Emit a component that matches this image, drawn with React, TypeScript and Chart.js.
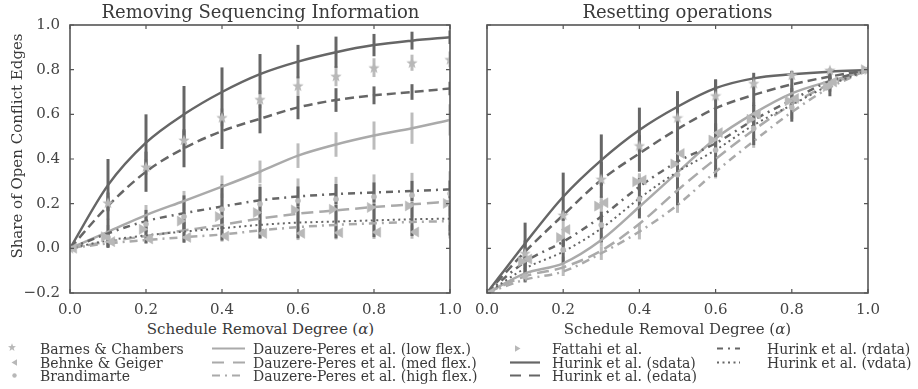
import React, { useEffect, useRef } from "react";
import { Chart, registerables } from "chart.js";
Chart.register(...registerables);

// ---------- data ----------
const X_VALUES = [0, 0.1, 0.2, 0.3, 0.4, 0.5, 0.6, 0.7, 0.8, 0.9, 1.0];
const X_TICKS = [0, 0.2, 0.4, 0.6, 0.8, 1.0];
const X_TICK_LABELS = ["0.0", "0.2", "0.4", "0.6", "0.8", "1.0"];
const Y_TICKS = [-0.2, 0, 0.2, 0.4, 0.6, 0.8, 1.0];
const Y_TICK_LABELS = ["\u22120.2", "0.0", "0.2", "0.4", "0.6", "0.8", "1.0"];

const PANEL_TITLES = ["Removing Sequencing Information", "Resetting operations"];
const X_TITLE = "Schedule Removal Degree (";
const X_TITLE_SYMBOL = "α";
const Y_TITLE = "Share of Open Conflict Edges";

const SERIES_NAMES = [
  "Barnes & Chambers",
  "Behnke & Geiger",
  "Brandimarte",
  "Dauzere-Peres et al. (low flex.)",
  "Dauzere-Peres et al. (med flex.)",
  "Dauzere-Peres et al. (high flex.)",
  "Fattahi et al.",
  "Hurink et al. (sdata)",
  "Hurink et al. (edata)",
  "Hurink et al. (rdata)",
  "Hurink et al. (vdata)",
];

// Left panel: Removing Sequencing Information
const L_BARNES = [0, 0.204, 0.365, 0.485, 0.586, 0.667, 0.728, 0.771, 0.809, 0.831, 0.846];
const L_BARNES_ERR = [0, 0.03, 0.035, 0.04, 0.04, 0.04, 0.042, 0.045, 0.042, 0.036, 0.035];
const L_BEHNKE = [0, 0.03, 0.042, 0.049, 0.055, 0.067, 0.067, 0.07, 0.072, 0.073, 0.074];
const L_BEHNKE_ERR = [0, 0.02, 0.02, 0.02, 0.025, 0.025, 0.03, 0.03, 0.03, 0.03, 0.03];
const L_BRANDIMARTE = [0, 0.049, 0.109, 0.142, 0.175, 0.199, 0.213, 0.22, 0.231, 0.238, 0.245];
const L_BRANDIMARTE_ERR = [0, 0.03, 0.05, 0.06, 0.07, 0.09, 0.1, 0.1, 0.1, 0.1, 0.1];
const L_LOWFLEX = [0, 0.074, 0.149, 0.212, 0.276, 0.343, 0.415, 0.465, 0.505, 0.538, 0.575];
const L_LOWFLEX_ERR = [0, 0.03, 0.045, 0.045, 0.05, 0.05, 0.055, 0.055, 0.063, 0.07, 0.07];
const L_MEDFLEX = [0, 0.03, 0.055, 0.08, 0.105, 0.133, 0.155, 0.17, 0.185, 0.197, 0.21];
const L_HIGHFLEX = [0, 0.022, 0.037, 0.05, 0.062, 0.08, 0.095, 0.105, 0.112, 0.118, 0.122];
const L_FATTAHI = [0, 0.052, 0.085, 0.122, 0.142, 0.16, 0.172, 0.175, 0.183, 0.19, 0.201];
const L_SDATA = [0, 0.283, 0.473, 0.6, 0.7, 0.78, 0.836, 0.878, 0.91, 0.93, 0.945];
const L_SDATA_ERR = [0, 0.117, 0.127, 0.127, 0.11, 0.09, 0.075, 0.07, 0.05, 0.04, 0.03];
const L_EDATA = [0, 0.19, 0.343, 0.448, 0.525, 0.58, 0.631, 0.664, 0.685, 0.7, 0.716];
const L_EDATA_ERR = [0, 0.06, 0.09, 0.085, 0.08, 0.065, 0.053, 0.053, 0.04, 0.035, 0.03];
const L_RDATA = [0, 0.067, 0.122, 0.157, 0.187, 0.215, 0.232, 0.243, 0.25, 0.257, 0.264];
const L_RDATA_ERR = [0, 0.065, 0.05, 0.08, 0.1, 0.06, 0.045, 0.045, 0.045, 0.045, 0.04];
const L_VDATA = [0, 0.035, 0.058, 0.075, 0.09, 0.105, 0.115, 0.12, 0.125, 0.13, 0.133];
const L_VDATA_ERR = [0, 0.03, 0.036, 0.05, 0.055, 0.06, 0.07, 0.075, 0.075, 0.075, 0.075];

// Right panel: Resetting operations
const R_BARNES = [-0.2, -0.022, 0.149, 0.31, 0.46, 0.585, 0.684, 0.739, 0.776, 0.798, 0.8];
const R_BARNES_ERR = [0, 0.02, 0.02, 0.025, 0.03, 0.03, 0.03, 0.03, 0.02, 0.01, 0];
const R_BEHNKE = [-0.2, -0.048, 0.084, 0.204, 0.306, 0.425, 0.518, 0.601, 0.671, 0.745, 0.8];
const R_BEHNKE_ERR = [0, 0.03, 0.05, 0.03, 0.03, 0.04, 0.04, 0.04, 0.03, 0.02, 0];
const R_BRANDIMARTE = [-0.2, -0.126, -0.007, 0.105, 0.221, 0.33, 0.44, 0.537, 0.631, 0.734, 0.8];
const R_LOWFLEX = [-0.2, -0.112, -0.067, 0.037, 0.186, 0.34, 0.492, 0.604, 0.694, 0.749, 0.797];
const R_LOWFLEX_ERR = [0, 0.02, 0.03, 0.03, 0.04, 0.05, 0.05, 0.05, 0.04, 0.03, 0];
const R_MEDFLEX = [-0.2, -0.125, -0.085, -0.01, 0.11, 0.26, 0.4, 0.53, 0.645, 0.735, 0.797];
const R_HIGHFLEX = [-0.2, -0.14, -0.104, -0.022, 0.075, 0.194, 0.343, 0.48, 0.61, 0.72, 0.797];
const R_HIGHFLEX_ERR = [0, 0.015, 0.02, 0.03, 0.035, 0.035, 0.03, 0.03, 0.03, 0.02, 0];
const R_FATTAHI = [-0.2, -0.059, 0.048, 0.189, 0.298, 0.378, 0.485, 0.578, 0.66, 0.724, 0.8];
const R_FATTAHI_ERR = [0, 0.03, 0.04, 0.03, 0.03, 0.04, 0.04, 0.04, 0.03, 0.02, 0];
const R_SDATA = [-0.2, 0.022, 0.231, 0.395, 0.53, 0.634, 0.717, 0.761, 0.779, 0.791, 0.798];
const R_SDATA_ERR = [0, 0.093, 0.108, 0.115, 0.1, 0.07, 0.037, 0.025, 0.015, 0.008, 0];
const R_EDATA = [-0.2, -0.015, 0.149, 0.306, 0.425, 0.534, 0.627, 0.687, 0.734, 0.769, 0.798];
const R_EDATA_ERR = [0, 0.05, 0.02, 0.08, 0.082, 0.12, 0.13, 0.05, 0.035, 0.03, 0];
const R_RDATA = [-0.2, -0.06, 0.03, 0.142, 0.276, 0.388, 0.47, 0.575, 0.664, 0.749, 0.798];
const R_RDATA_ERR = [0, 0.05, 0.02, 0.022, 0.02, 0.03, 0.02, 0.03, 0.03, 0.02, 0];
const R_VDATA = [-0.2, -0.09, -0.015, 0.089, 0.224, 0.343, 0.44, 0.552, 0.642, 0.731, 0.798];
const R_VDATA_ERR = [0, 0.06, 0.052, 0.062, 0.09, 0.15, 0.12, 0.09, 0.075, 0.05, 0];

type PanelSeries = { y: number[]; err?: number[] };

const LEFT_PANEL: Record<string, PanelSeries> = {
  "Barnes & Chambers": { y: L_BARNES, err: L_BARNES_ERR },
  "Behnke & Geiger": { y: L_BEHNKE, err: L_BEHNKE_ERR },
  "Brandimarte": { y: L_BRANDIMARTE, err: L_BRANDIMARTE_ERR },
  "Dauzere-Peres et al. (low flex.)": { y: L_LOWFLEX, err: L_LOWFLEX_ERR },
  "Dauzere-Peres et al. (med flex.)": { y: L_MEDFLEX },
  "Dauzere-Peres et al. (high flex.)": { y: L_HIGHFLEX },
  "Fattahi et al.": { y: L_FATTAHI },
  "Hurink et al. (sdata)": { y: L_SDATA, err: L_SDATA_ERR },
  "Hurink et al. (edata)": { y: L_EDATA, err: L_EDATA_ERR },
  "Hurink et al. (rdata)": { y: L_RDATA, err: L_RDATA_ERR },
  "Hurink et al. (vdata)": { y: L_VDATA, err: L_VDATA_ERR },
};

const RIGHT_PANEL: Record<string, PanelSeries> = {
  "Barnes & Chambers": { y: R_BARNES, err: R_BARNES_ERR },
  "Behnke & Geiger": { y: R_BEHNKE, err: R_BEHNKE_ERR },
  "Brandimarte": { y: R_BRANDIMARTE },
  "Dauzere-Peres et al. (low flex.)": { y: R_LOWFLEX, err: R_LOWFLEX_ERR },
  "Dauzere-Peres et al. (med flex.)": { y: R_MEDFLEX },
  "Dauzere-Peres et al. (high flex.)": { y: R_HIGHFLEX, err: R_HIGHFLEX_ERR },
  "Fattahi et al.": { y: R_FATTAHI, err: R_FATTAHI_ERR },
  "Hurink et al. (sdata)": { y: R_SDATA, err: R_SDATA_ERR },
  "Hurink et al. (edata)": { y: R_EDATA, err: R_EDATA_ERR },
  "Hurink et al. (rdata)": { y: R_RDATA, err: R_RDATA_ERR },
  "Hurink et al. (vdata)": { y: R_VDATA, err: R_VDATA_ERR },
};

// ---------- styles ----------
const DARK = "#666666";
const LIGHT = "#aaaaaa";
const MARKER = "#b8b8b8";
const LIGHT_BAR = "#bcbcbc";
const FRAME = "#555555";
const TEXT = "#3a3a3a";
const FONT = '"DejaVu Serif", serif';
const MARKER_DX = 0.01;

type Style = {
  kind: "line" | "marker";
  color: string;
  dash?: number[];
  width?: number;
  marker?: "star" | "left" | "right" | "circle";
  dx?: number;
  dark: boolean;
};

const STYLES: Record<string, Style> = {
  "Barnes & Chambers": { kind: "marker", color: MARKER, marker: "star", dark: false },
  "Behnke & Geiger": { kind: "marker", color: MARKER, marker: "left", dx: MARKER_DX, dark: false },
  "Brandimarte": { kind: "marker", color: MARKER, marker: "circle", dark: false },
  "Dauzere-Peres et al. (low flex.)": { kind: "line", color: LIGHT, width: 2.5, dash: [], dark: false },
  "Dauzere-Peres et al. (med flex.)": { kind: "line", color: LIGHT, width: 2.5, dash: [12, 6], dark: false },
  "Dauzere-Peres et al. (high flex.)": { kind: "line", color: LIGHT, width: 2.5, dash: [8, 5, 2, 5], dark: false },
  "Fattahi et al.": { kind: "marker", color: MARKER, marker: "right", dx: -MARKER_DX, dark: false },
  "Hurink et al. (sdata)": { kind: "line", color: DARK, width: 2.5, dash: [], dark: true },
  "Hurink et al. (edata)": { kind: "line", color: DARK, width: 2.5, dash: [9, 5], dark: true },
  "Hurink et al. (rdata)": { kind: "line", color: DARK, width: 2.5, dash: [7, 5, 2, 5], dark: true },
  "Hurink et al. (vdata)": { kind: "line", color: DARK, width: 2, dash: [2, 3.5], dark: true },
};

function makeStar(color: string, size: number): HTMLCanvasElement {
  const c = document.createElement("canvas");
  c.width = size;
  c.height = size;
  const ctx = c.getContext("2d")!;
  ctx.fillStyle = color;
  ctx.beginPath();
  const cx = size / 2;
  const cy = size / 2 + 0.5;
  const R = size / 2;
  const r = R * 0.42;
  for (let i = 0; i < 10; i++) {
    const a = -Math.PI / 2 + (i * Math.PI) / 5;
    const rad = i % 2 === 0 ? R : r;
    const px = cx + rad * Math.cos(a);
    const py = cy + rad * Math.sin(a);
    if (i === 0) ctx.moveTo(px, py);
    else ctx.lineTo(px, py);
  }
  ctx.closePath();
  ctx.fill();
  return c;
}

function buildDatasets(panel: Record<string, PanelSeries>, star: HTMLCanvasElement) {
  const list: any[] = [];
  const barOrder = SERIES_NAMES.filter((n) => !STYLES[n].dark).concat(
    SERIES_NAMES.filter((n) => STYLES[n].dark)
  );
  for (const name of barOrder) {
    const s = panel[name];
    const st = STYLES[name];
    if (!s.err) continue;
    const err = s.err;
    list.push({
      type: "bar",
      label: name + " err",
      data: X_VALUES.map((x, i) => ({ x, y: [s.y[i] - err[i], s.y[i] + err[i]] })).filter(
        (_d, i) => err[i] > 0
      ),
      backgroundColor: st.dark ? DARK : LIGHT_BAR,
      borderWidth: 0,
      barThickness: 3,
      grouped: false,
      inflateAmount: 0,
      clip: 0,
    });
  }
  for (const name of SERIES_NAMES) {
    const st = STYLES[name];
    if (st.kind !== "line") continue;
    const s = panel[name];
    list.push({
      type: "line",
      label: name,
      data: X_VALUES.map((x, i) => ({ x, y: s.y[i] })),
      borderColor: st.color,
      borderWidth: st.width,
      borderDash: st.dash,
      borderCapStyle: "butt",
      pointRadius: 0,
      fill: false,
      cubicInterpolationMode: "monotone",
      clip: 0,
    });
  }
  for (const name of SERIES_NAMES) {
    const st = STYLES[name];
    if (st.kind !== "marker") continue;
    const s = panel[name];
    const dx = st.dx || 0;
    const base: any = {
      type: "line",
      label: name,
      showLine: false,
      data: X_VALUES.map((x, i) => ({ x: x + dx, y: s.y[i] })),
      pointBackgroundColor: st.color,
      pointBorderColor: st.color,
      clip: 0,
    };
    if (st.marker === "star") {
      base.pointStyle = star;
      base.pointRadius = 6;
    } else if (st.marker === "circle") {
      base.pointStyle = "circle";
      base.pointRadius = 2.6;
      base.pointBorderWidth = 0.5;
    } else {
      base.pointStyle = "triangle";
      base.pointRadius = 5.8;
      base.pointBorderWidth = 0.5;
      base.rotation = st.marker === "right" ? 90 : -90;
      base.pointRotation = st.marker === "right" ? 90 : -90;
    }
    list.push(base);
  }
  return list.reverse();
}

const frameTicks = {
  id: "frameTicks",
  afterDraw(chart: any) {
    const { ctx, chartArea: a, scales } = chart;
    const xs = scales.x;
    const ys = scales.y;
    ctx.save();
    ctx.strokeStyle = FRAME;
    ctx.lineWidth = 1.2;
    ctx.beginPath();
    for (const v of X_TICKS) {
      const px = xs.getPixelForValue(v);
      ctx.moveTo(px, a.bottom);
      ctx.lineTo(px, a.bottom - 4);
      ctx.moveTo(px, a.top);
      ctx.lineTo(px, a.top + 4);
    }
    for (const v of Y_TICKS) {
      const py = ys.getPixelForValue(v);
      ctx.moveTo(a.left, py);
      ctx.lineTo(a.left + 4, py);
      ctx.moveTo(a.right, py);
      ctx.lineTo(a.right - 4, py);
    }
    ctx.stroke();
    ctx.lineWidth = 1.6;
    ctx.strokeRect(a.left, a.top, a.right - a.left, a.bottom - a.top);
    ctx.restore();
  },
};

function makeOptions(showY: boolean, yWidth: number, rightPad: number): any {
  const tickFont = { family: FONT, size: 15 };
  return {
    animation: false,
    responsive: false,
    events: [],
    layout: { padding: { top: 25, right: rightPad, left: 0, bottom: 0 } },
    plugins: { legend: { display: false }, tooltip: { enabled: false }, title: { display: false } },
    scales: {
      x: {
        type: "linear",
        min: 0,
        max: 1,
        offset: false,
        grid: { display: false, drawTicks: false },
        border: { display: false },
        ticks: {
          font: tickFont,
          color: "#444444",
          padding: 8,
          maxRotation: 0,
          autoSkip: false,
          callback: (_v: any, i: number) => X_TICK_LABELS[i],
        },
        afterBuildTicks: (s: any) => {
          s.ticks = X_TICKS.map((v) => ({ value: v }));
        },
        afterFit: (s: any) => {
          s.height = 27;
        },
      },
      y: {
        type: "linear",
        min: -0.2,
        max: 1.0,
        grid: { display: false, drawTicks: false },
        border: { display: false },
        ticks: {
          display: showY,
          font: tickFont,
          color: "#444444",
          padding: 10,
          autoSkip: false,
          callback: (_v: any, i: number) => Y_TICK_LABELS[i],
        },
        afterBuildTicks: (s: any) => {
          s.ticks = Y_TICKS.map((v) => ({ value: v }));
        },
        afterFit: (s: any) => {
          s.width = yWidth;
        },
      },
    },
  };
}

function LegendSymbols() {
  const starPts = (cx: number, cy: number, R: number) => {
    const pts: string[] = [];
    for (let i = 0; i < 10; i++) {
      const a = -Math.PI / 2 + (i * Math.PI) / 5;
      const rad = i % 2 === 0 ? R : R * 0.42;
      pts.push(`${(cx + rad * Math.cos(a)).toFixed(2)},${(cy + rad * Math.sin(a)).toFixed(2)}`);
    }
    return pts.join(" ");
  };
  const r1 = 348.5;
  const r2 = 362.5;
  const r3 = 375.5;
  return (
    <svg
      width={918}
      height={389}
      style={{ position: "absolute", left: 0, top: 0, pointerEvents: "none" }}
    >
      <polygon points={starPts(12, r1 - 1, 4.2)} fill={MARKER} />
      <polygon points={`${11.5},${r2} ${17},${r2 - 3.2} ${17},${r2 + 3.2}`} fill={MARKER} />
      <circle cx={14.5} cy={r3} r={2.2} fill={MARKER} />
      <line x1={212} x2={245} y1={r1} y2={r1} stroke={LIGHT} strokeWidth={2.2} />
      <line x1={212} x2={245} y1={r2} y2={r2} stroke={LIGHT} strokeWidth={2.2} strokeDasharray="12 9" />
      <line x1={212} x2={245} y1={r3} y2={r3} stroke={LIGHT} strokeWidth={2.2} strokeDasharray="8 5 2 5" />
      <polygon points={`${520.5},${r1} ${515},${r1 - 3.2} ${515},${r1 + 3.2}`} fill={MARKER} />
      <line x1={510} x2={540} y1={r2} y2={r2} stroke={DARK} strokeWidth={2.2} />
      <line x1={510} x2={540} y1={r3} y2={r3} stroke={DARK} strokeWidth={2.2} strokeDasharray="11 8" />
      <line x1={717} x2={740} y1={r1} y2={r1} stroke={DARK} strokeWidth={2.2} strokeDasharray="6 5 2 5" />
      <line x1={717} x2={740} y1={r2} y2={r2} stroke={DARK} strokeWidth={1.8} strokeDasharray="2 3.5" />
    </svg>
  );
}

export default function App() {
  const leftRef = useRef<HTMLCanvasElement>(null);
  const rightRef = useRef<HTMLCanvasElement>(null);

  useEffect(() => {
    const star = makeStar(MARKER, 12);
    const c1 = new Chart(leftRef.current!, {
      type: "line",
      data: { datasets: buildDatasets(LEFT_PANEL, star) },
      options: makeOptions(true, 70, 20),
      plugins: [frameTicks],
    } as any);
    const c2 = new Chart(rightRef.current!, {
      type: "line",
      data: { datasets: buildDatasets(RIGHT_PANEL, star) },
      options: makeOptions(false, 27, 50),
      plugins: [frameTicks],
    } as any);
    return () => {
      c1.destroy();
      c2.destroy();
    };
  }, []);

  const legendText = (text: string, left: number, baseline: number) => (
    <div
      key={text}
      style={{
        position: "absolute",
        left,
        top: baseline - 11.85,
        fontSize: 14,
        lineHeight: "14px",
        whiteSpace: "nowrap",
        color: TEXT,
      }}
    >
      {text}
    </div>
  );
  const b1 = 354;
  const b2 = 367.5;
  const b3 = 381;

  return (
    <div
      style={{
        position: "absolute",
        left: 0,
        top: 0,
        width: 918,
        height: 389,
        background: "#ffffff",
        overflow: "hidden",
        fontFamily: FONT,
        color: TEXT,
      }}
    >
      <canvas
        ref={leftRef}
        width={470}
        height={320}
        style={{ position: "absolute", left: 0, top: 0, width: 470, height: 320 }}
      />
      <canvas
        ref={rightRef}
        width={458}
        height={320}
        style={{ position: "absolute", left: 460, top: 0, width: 458, height: 320 }}
      />
      {[70, 487].map((left, i) => (
        <div
          key={"t" + i}
          style={{
            position: "absolute",
            left,
            top: 3,
            width: 381,
            textAlign: "center",
            fontSize: 18,
            lineHeight: "18px",
            whiteSpace: "nowrap",
          }}
        >
          {PANEL_TITLES[i]}
        </div>
      ))}
      {[70, 487].map((left, i) => (
        <div
          key={"x" + i}
          style={{
            position: "absolute",
            left,
            top: 321,
            width: 381,
            textAlign: "center",
            fontSize: 15,
            lineHeight: "16px",
            whiteSpace: "nowrap",
          }}
        >
          {X_TITLE}
          <i>{X_TITLE_SYMBOL}</i>)
        </div>
      ))}
      <div
        style={{
          position: "absolute",
          left: 17 - 150,
          top: 146 - 9,
          width: 300,
          height: 18,
          lineHeight: "18px",
          textAlign: "center",
          fontSize: 15,
          transform: "rotate(-90deg)",
          whiteSpace: "nowrap",
        }}
      >
        {Y_TITLE}
      </div>
      <LegendSymbols />
      {legendText(SERIES_NAMES[0], 40, b1)}
      {legendText(SERIES_NAMES[1], 40, b2)}
      {legendText(SERIES_NAMES[2], 40, b3)}
      {legendText(SERIES_NAMES[3], 253, b1)}
      {legendText(SERIES_NAMES[4], 253, b2)}
      {legendText(SERIES_NAMES[5], 253, b3)}
      {legendText(SERIES_NAMES[6], 552, b1)}
      {legendText(SERIES_NAMES[7], 552, b2)}
      {legendText(SERIES_NAMES[8], 552, b3)}
      {legendText(SERIES_NAMES[9], 767, b1)}
      {legendText(SERIES_NAMES[10], 767, b2)}
    </div>
  );
}
